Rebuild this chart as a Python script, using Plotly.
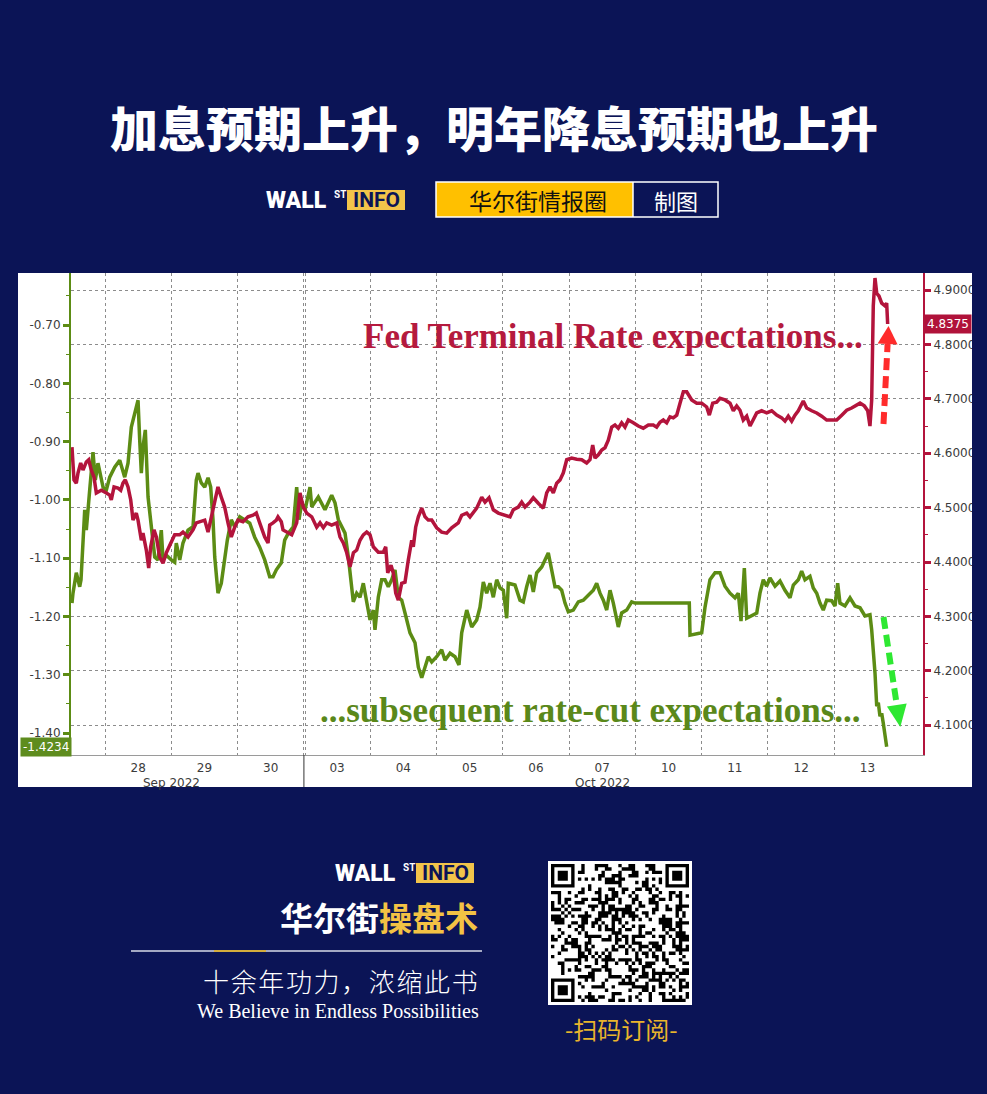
import plotly.graph_objects as go

W, H = 987, 1094
NAVY = "#0b1456"
RED = "#b3143c"
GREEN = "#5c8c14"
GRID = "#8c8c8c"

# ---------------- data ----------------
day_labels = ["28", "29", "30", "03", "04", "05", "06", "07", "10", "11", "12", "13"]
month_labels = ["Sep 2022", "Oct 2022"]
month_pos = [1.0, 7.5]
left_ticks = [-0.70, -0.80, -0.90, -1.00, -1.10, -1.20, -1.30, -1.40]
right_ticks = [4.10, 4.20, 4.30, 4.40, 4.50, 4.60, 4.70, 4.80, 4.90]

green_x = [-0.498,-0.483,-0.433,-0.382,-0.362,-0.332,-0.306,-0.282,-0.256,-0.231,
           -0.181,-0.146,-0.106,-0.080,-0.030,0.020,0.071,0.146,0.222,0.297,
           0.347,0.397,0.448,0.498,0.523,0.548,0.573,0.608,0.649,0.698,
           0.750,0.799,0.849,0.875,0.925,1.000,1.051,1.075,1.127,1.176,
           1.252,1.327,1.377,1.403,1.452,1.504,1.554,1.594,1.629,1.655,
           1.704,1.754,1.805,1.845,1.905,1.956,2.032,2.107,2.183,2.258,
           2.333,2.409,2.484,2.534,2.584,2.659,2.710,2.765,2.840,2.891,
           2.926,2.967,3.017,3.092,3.118,3.217,3.318,3.419,3.469,3.519,
           3.620,3.670,3.721,3.745,3.796,3.846,3.896,3.947,3.997,4.047,
           4.072,4.122,4.173,4.223,4.273,4.324,4.374,4.424,4.475,4.525,
           4.600,4.676,4.726,4.777,4.827,4.876,4.928,5.003,5.078,5.128,
           5.204,5.279,5.339,5.380,5.456,5.531,5.606,5.656,5.706,5.757,
           5.807,5.857,5.908,5.958,6.008,6.059,6.083,6.184,6.259,6.309,
           6.360,6.410,6.460,6.511,6.587,6.637,6.686,6.737,6.787,6.837,
           6.888,6.938,6.988,7.063,7.139,7.214,7.290,7.365,7.416,7.466,
           7.516,7.567,7.617,7.667,7.742,7.793,7.869,7.944,7.994,8.813,
           8.824,9.000,9.050,9.125,9.201,9.276,9.351,9.427,9.502,9.552,
           9.593,9.643,9.679,9.754,9.830,9.879,9.929,9.980,10.030,10.106,
           10.181,10.256,10.332,10.382,10.457,10.508,10.558,10.633,10.683,10.735,
           10.784,10.834,10.885,10.961,11.011,11.051,11.086,11.161,11.237,11.312,
           11.388,11.463,11.538,11.564,11.588,11.614,11.640,11.664,11.689,11.715,
           11.739,11.765,11.790]
green_y = [-1.177,-1.160,-1.125,-1.149,-1.137,-1.057,-1.017,-1.052,-1.012,-0.983,
           -0.918,-0.966,-0.937,-0.949,-0.978,-0.983,-0.961,-0.944,-0.932,-0.961,
           -0.937,-0.875,-0.851,-0.829,-0.897,-0.954,-0.909,-0.880,-0.995,-1.052,
           -1.098,-1.103,-1.052,-1.103,-1.095,-1.103,-1.107,-1.074,-1.103,-1.074,
           -1.052,-1.046,-0.966,-0.954,-0.971,-0.978,-0.962,-0.978,-1.034,-1.098,
           -1.160,-1.143,-1.098,-1.069,-1.034,-1.046,-1.029,-1.034,-1.040,-1.064,
           -1.081,-1.103,-1.132,-1.132,-1.120,-1.108,-1.069,-1.057,-1.046,-0.978,
           -1.034,-1.005,-1.017,-0.978,-1.012,-0.995,-1.017,-0.992,-1.005,-1.034,
           -1.057,-1.098,-1.149,-1.175,-1.160,-1.167,-1.143,-1.172,-1.206,-1.189,
           -1.223,-1.167,-1.137,-1.137,-1.149,-1.137,-1.120,-1.167,-1.172,-1.194,
           -1.228,-1.245,-1.287,-1.305,-1.287,-1.269,-1.278,-1.269,-1.257,-1.275,
           -1.263,-1.269,-1.283,-1.228,-1.189,-1.218,-1.206,-1.184,-1.141,-1.160,
           -1.143,-1.167,-1.137,-1.151,-1.155,-1.203,-1.143,-1.146,-1.172,-1.175,
           -1.149,-1.129,-1.158,-1.125,-1.115,-1.103,-1.091,-1.120,-1.149,-1.149,
           -1.155,-1.177,-1.192,-1.189,-1.175,-1.172,-1.163,-1.155,-1.143,-1.160,
           -1.172,-1.189,-1.155,-1.177,-1.218,-1.194,-1.189,-1.175,-1.177,-1.177,
           -1.232,-1.228,-1.184,-1.137,-1.125,-1.125,-1.148,-1.160,-1.168,-1.160,
           -1.208,-1.117,-1.203,-1.199,-1.194,-1.160,-1.137,-1.148,-1.134,-1.148,
           -1.139,-1.155,-1.168,-1.146,-1.137,-1.122,-1.137,-1.131,-1.151,-1.160,
           -1.177,-1.189,-1.172,-1.173,-1.182,-1.143,-1.177,-1.182,-1.168,-1.182,
           -1.185,-1.199,-1.197,-1.223,-1.257,-1.297,-1.354,-1.348,-1.371,-1.366,
           -1.383,-1.400,-1.4234]

red_x = [-0.498,-0.468,-0.433,-0.407,-0.367,-0.332,-0.282,-0.246,-0.207,-0.166,
         -0.131,-0.056,0.020,0.071,0.095,0.136,0.196,0.237,0.271,0.306,
         0.347,0.388,0.422,0.472,0.498,0.548,0.573,0.623,0.659,0.689,
         0.739,0.774,0.825,0.875,0.925,1.000,1.051,1.127,1.176,1.252,
         1.327,1.377,1.452,1.504,1.554,1.614,1.655,1.704,1.754,1.805,
         1.855,1.905,1.956,2.006,2.081,2.157,2.232,2.282,2.333,2.409,
         2.459,2.484,2.534,2.584,2.609,2.659,2.685,2.816,2.891,2.941,
         2.991,3.042,3.118,3.193,3.243,3.293,3.344,3.419,3.495,3.544,
         3.594,3.646,3.695,3.747,3.796,3.846,3.896,3.947,3.997,4.047,
         4.122,4.198,4.234,4.264,4.314,4.348,4.385,4.424,4.475,4.525,
         4.575,4.626,4.650,4.686,4.726,4.777,4.827,4.876,4.928,5.003,
         5.078,5.154,5.229,5.279,5.329,5.380,5.456,5.505,5.555,5.606,
         5.682,5.732,5.792,5.857,5.932,6.033,6.109,6.158,6.234,6.285,
         6.335,6.410,6.460,6.535,6.611,6.662,6.712,6.762,6.813,6.863,
         6.913,6.964,7.039,7.115,7.190,7.265,7.315,7.356,7.391,7.441,
         7.492,7.541,7.591,7.643,7.692,7.742,7.793,7.843,7.893,7.968,
         8.044,8.119,8.195,8.270,8.321,8.371,8.421,8.472,8.522,8.572,
         8.623,8.673,8.723,8.774,8.849,8.925,9.000,9.075,9.115,9.166,
         9.226,9.276,9.351,9.427,9.477,9.528,9.578,9.627,9.679,9.729,
         9.778,9.830,9.905,9.980,10.056,10.131,10.207,10.256,10.306,10.357,
         10.407,10.457,10.532,10.584,10.659,10.735,10.810,10.885,10.961,11.036,
         11.112,11.187,11.262,11.338,11.388,11.453,11.504,11.538,11.564,11.588,
         11.614,11.640,11.674,11.715,11.765,11.790,11.805]
red_y = [4.611,4.551,4.545,4.564,4.582,4.569,4.584,4.588,4.569,4.556,
         4.527,4.532,4.527,4.523,4.514,4.538,4.536,4.532,4.545,4.551,
         4.538,4.514,4.477,4.490,4.477,4.440,4.453,4.422,4.389,4.428,
         4.459,4.446,4.409,4.398,4.417,4.437,4.450,4.450,4.455,4.446,
         4.459,4.472,4.474,4.477,4.455,4.490,4.508,4.538,4.519,4.501,
         4.472,4.446,4.464,4.477,4.474,4.483,4.486,4.490,4.472,4.446,
         4.435,4.468,4.472,4.477,4.483,4.474,4.459,4.450,4.472,4.527,
         4.501,4.490,4.483,4.464,4.472,4.463,4.472,4.468,4.472,4.446,
         4.435,4.417,4.391,4.417,4.422,4.440,4.450,4.455,4.450,4.428,
         4.418,4.418,4.428,4.380,4.394,4.380,4.343,4.330,4.361,4.363,
         4.404,4.440,4.428,4.464,4.483,4.499,4.483,4.477,4.477,4.463,
         4.455,4.453,4.463,4.468,4.472,4.486,4.490,4.483,4.492,4.499,
         4.519,4.510,4.518,4.496,4.490,4.486,4.483,4.496,4.501,4.510,
         4.501,4.510,4.518,4.508,4.499,4.527,4.538,4.527,4.545,4.551,
         4.564,4.588,4.591,4.589,4.588,4.582,4.588,4.615,4.591,4.597,
         4.606,4.610,4.624,4.648,4.652,4.646,4.656,4.648,4.661,4.656,
         4.650,4.646,4.652,4.652,4.648,4.657,4.661,4.656,4.667,4.665,
         4.670,4.692,4.713,4.713,4.698,4.692,4.692,4.685,4.670,4.692,
         4.694,4.701,4.698,4.692,4.678,4.687,4.679,4.661,4.668,4.650,
         4.661,4.674,4.678,4.674,4.678,4.670,4.665,4.659,4.668,4.659,
         4.670,4.678,4.696,4.683,4.678,4.674,4.668,4.661,4.661,4.661,
         4.670,4.679,4.683,4.689,4.692,4.687,4.678,4.650,4.698,4.871,
         4.922,4.894,4.889,4.876,4.871,4.876,4.8375]

red_last = red_y[-1]
green_last = green_y[-1]


# ---------------- helpers ----------------
def X(p):
    return p / W


def Y(p):
    return 1 - p / H


day_centers = [i + 0.5 for i in range(len(day_labels))]
day_bounds = [float(i) for i in range(len(day_labels))] + [3.03]
left_minor = [(a + b) / 2 for a, b in zip(left_ticks[:-1], left_ticks[1:])] + [-0.65]
right_minor = [(a + b) / 2 for a, b in zip(right_ticks[:-1], right_ticks[1:])]

fig = go.Figure()
fig.add_trace(go.Scatter(x=green_x, y=green_y, mode="lines", yaxis="y",
                         line=dict(color=GREEN, width=3.5), hoverinfo="skip", showlegend=False))
fig.add_trace(go.Scatter(x=red_x, y=red_y, mode="lines", yaxis="y2",
                         line=dict(color=RED, width=3.5), hoverinfo="skip", showlegend=False))

tickfont = dict(family="DejaVu Sans", size=12, color="#3c3c3c")

fig.update_layout(
    width=W, height=H, autosize=False,
    margin=dict(l=0, r=0, t=0, b=0),
    paper_bgcolor=NAVY, plot_bgcolor="white",
    showlegend=False,
    xaxis=dict(domain=[X(71), X(923)], range=[-0.513, 12.338],
               tickvals=day_centers, ticktext=day_labels, ticks="",
               showgrid=False, zeroline=False, showline=True, linecolor="#9a9a9a", linewidth=1,
               tickfont=tickfont, ticklabelstandoff=2,
               minor=dict(tickvals=day_bounds, showgrid=True, gridcolor=GRID,
                          griddash="dot", gridwidth=1, ticks=""),
               anchor="y", fixedrange=True),
    yaxis=dict(domain=[Y(755), Y(273)], range=[-1.4376, -0.6108],
               tickvals=left_ticks, ticktext=[f"{v:.2f}" for v in left_ticks],
               ticks="outside", ticklen=6, tickwidth=3, tickcolor=GREEN,
               showline=True, linecolor=GREEN, linewidth=2,
               showgrid=False, zeroline=False, tickfont=tickfont,
               minor=dict(tickvals=left_minor, ticks="outside", ticklen=3,
                          tickwidth=1, tickcolor=GREEN, showgrid=False),
               anchor="x", fixedrange=True),
    yaxis2=dict(overlaying="y", side="right", anchor="x",
                range=[4.0452, 4.9313],
                tickvals=right_ticks, ticktext=[f"{v:.4f}" for v in right_ticks],
                ticks="outside", ticklen=6, tickwidth=3, tickcolor=RED,
                showline=True, linecolor=RED, linewidth=2,
                showgrid=True, gridcolor=GRID, griddash="dot", gridwidth=1,
                zeroline=False, tickfont=tickfont,
                minor=dict(tickvals=right_minor, ticks="outside", ticklen=3,
                           tickwidth=1, tickcolor=RED, showgrid=False),
                fixedrange=True),
)

shapes = []
# white chart panel
shapes.append(dict(type="rect", xref="paper", yref="paper", x0=X(18), x1=X(972),
                   y0=Y(787), y1=Y(273), fillcolor="white", line=dict(width=0), layer="below"))
# clip of right labels at panel edge
shapes.append(dict(type="rect", xref="paper", yref="paper", x0=X(972), x1=1.0,
                   y0=Y(790), y1=Y(270), fillcolor=NAVY, line=dict(width=0), layer="above"))
# month separator
shapes.append(dict(type="line", xref="x", yref="paper", x0=3.0, x1=3.0,
                   y0=Y(787), y1=Y(755), line=dict(color="#333333", width=1)))


def arrow(tail, base, tip, half, color):
    (tx, ty), (bx, by), (px_, py_) = tail, base, tip
    dx, dy = px_ - bx, py_ - by
    n_ = (dx * dx + dy * dy) ** 0.5
    ux, uy = -dy / n_, dx / n_
    shapes.append(dict(type="line", xref="paper", yref="paper",
                       x0=X(tx), y0=Y(ty), x1=X(bx), y1=Y(by),
                       line=dict(color=color, width=6, dash="12px,6px")))
    p1 = (bx + ux * half, by + uy * half)
    p2 = (bx - ux * half, by - uy * half)
    path = (f"M{X(p1[0]):.5f},{Y(p1[1]):.5f} L{X(px_):.5f},{Y(py_):.5f} "
            f"L{X(p2[0]):.5f},{Y(p2[1]):.5f} Z")
    shapes.append(dict(type="path", xref="paper", yref="paper", path=path,
                       fillcolor=color, line=dict(width=0)))


arrow((883.5, 424), (887.6, 344), (888.5, 326), 10, "#ff2b2b")
arrow((883.5, 617), (896.8, 705), (900.3, 727), 10, "#2ee832")

# header: tag boxes
shapes.append(dict(type="rect", xref="paper", yref="paper", x0=X(436), x1=X(633),
                   y0=Y(217), y1=Y(182), fillcolor="#ffc000", line=dict(width=0)))
shapes.append(dict(type="rect", xref="paper", yref="paper", x0=X(436), x1=X(718),
                   y0=Y(217), y1=Y(182), fillcolor="rgba(0,0,0,0)",
                   line=dict(color="white", width=1.5)))
shapes.append(dict(type="line", xref="paper", yref="paper", x0=X(633), x1=X(633),
                   y0=Y(217), y1=Y(182), line=dict(color="white", width=1.5)))


def logo(xw, yc, scale):
    # WALL ST INFO wordmark
    ann = []
    ann.append(dict(x=X(xw), y=Y(yc), text="WALL", xanchor="left", yanchor="middle",
                    font=dict(family="Roboto", size=23 * scale, color="white", weight=900)))
    ann.append(dict(x=X(xw + 68 * scale), y=Y(yc - 6 * scale), text="ST", xanchor="left",
                    yanchor="middle",
                    font=dict(family="Roboto", size=10 * scale, color="white", weight=700)))
    bx0 = xw + 83 * scale
    shapes.append(dict(type="rect", xref="paper", yref="paper", x0=X(bx0), x1=X(bx0 + 58 * scale),
                       y0=Y(yc + 10 * scale), y1=Y(yc - 10 * scale), fillcolor="#f2c44a",
                       line=dict(width=0)))
    ann.append(dict(x=X(bx0 + 29 * scale), y=Y(yc), text="INFO", xanchor="center",
                    yanchor="middle",
                    font=dict(family="Roboto", size=21 * scale, color=NAVY, weight=700)))
    return ann


annotations = []
annotations += logo(264, 200, 1.0)
annotations += logo(333, 873, 1.0)

# footer line
shapes.append(dict(type="line", xref="paper", yref="paper", x0=X(131), x1=X(482),
                   y0=Y(951), y1=Y(951), line=dict(color="#d8dbe8", width=1.5)))
shapes.append(dict(type="line", xref="paper", yref="paper", x0=X(214), x1=X(266),
                   y0=Y(951), y1=Y(951), line=dict(color="#d4ad3c", width=2)))

# QR code (decorative)
qx0, qy0, qs = 548, 861, 144
shapes.append(dict(type="rect", xref="paper", yref="paper", x0=X(qx0), x1=X(qx0 + qs),
                   y0=Y(qy0 + qs), y1=Y(qy0), fillcolor="white", line=dict(width=0)))
n = 41
m = (qs - 6) / n
ox, oy = qx0 + 3, qy0 + 3


def module(r, c):
    for fr, fc in [(0, 0), (0, n - 7), (n - 7, 0)]:
        if fr <= r < fr + 7 and fc <= c < fc + 7:
            rr, cc = r - fr, c - fc
            return rr in (0, 6) or cc in (0, 6) or (2 <= rr <= 4 and 2 <= cc <= 4)
        if fr - 1 <= r <= fr + 7 and fc - 1 <= c <= fc + 7:
            return False
    h = (r * 37 + 11) * (c * 53 + 7) + r * r * 5 + c * 3
    return (h ^ (h >> 3)) % 7 < 3


parts = []
for r in range(n):
    c = 0
    while c < n:
        if module(r, c):
            c2 = c
            while c2 < n and module(r, c2):
                c2 += 1
            xa, xb = ox + c * m, ox + c2 * m
            ya, yb = oy + r * m, oy + (r + 1) * m
            parts.append(f"M{X(xa):.5f},{Y(ya):.5f}H{X(xb):.5f}V{Y(yb):.5f}H{X(xa):.5f}Z")
            c = c2
        else:
            c += 1
shapes.append(dict(type="path", xref="paper", yref="paper", path=" ".join(parts),
                   fillcolor="black", line=dict(width=0)))

fig.update_layout(shapes=shapes)


def txt(x, y, text, size, color, family="Noto Sans CJK SC", weight=400, xanchor="center",
        xref="paper", yref="paper", **kw):
    d = dict(x=x, y=y, xref=xref, yref=yref, text=text, showarrow=False,
             xanchor=xanchor, yanchor="middle",
             font=dict(family=family, size=size, color=color, weight=weight))
    d.update(kw)
    return d


slogan = "\u200a".join("十余年功力，浓缩此书")

annotations = [dict(a, xref="paper", yref="paper", showarrow=False) for a in annotations]
annotations += [
    txt(X(494), Y(126), "加息预期上升，明年降息预期也上升", 48, "white", weight=900),
    txt(X(538), Y(200), "华尔街情报圈", 23, "#111111"),
    txt(X(676), Y(200), "制图", 22, "white"),
    txt(X(361), Y(336), "Fed Terminal Rate expectations...", 35, "#b51a3e",
        family="Liberation Serif", weight=700, xanchor="left"),
    txt(X(318), Y(710), "...subsequent rate-cut expectations...", 35, "#5a881a",
        family="Liberation Serif", weight=700, xanchor="left"),
    txt(month_pos[0], Y(783), month_labels[0], 12, "#3c3c3c", family="DejaVu Sans", xref="x"),
    txt(month_pos[1], Y(783), month_labels[1], 12, "#3c3c3c", family="DejaVu Sans", xref="x"),
    txt(X(924), red_last, f"{red_last:.4f}", 12, "white", family="DejaVu Sans",
        xanchor="left", yref="y2", bgcolor="#b0123a", borderpad=2),
    txt(X(72), green_last, f"{green_last:.4f}", 12, "white", family="DejaVu Sans",
        xanchor="right", yref="y", bgcolor="#5e8c1e", borderpad=2),
    txt(X(480), Y(917), "华尔街<span style='color:#f3c244'>操盘术</span>", 33, "white",
        weight=700, xanchor="right"),
    txt(X(480), Y(980), slogan, 26, "white", weight=300, xanchor="right"),
    txt(X(481), Y(1011), "We Believe in Endless Possibilities", 20, "white",
        family="Liberation Serif", xanchor="right"),
    txt(X(621), Y(1028), "-扫码订阅-", 24, "#e9b52c"),
]
fig.update_layout(annotations=annotations)

fig.write_html("out.html", config={"displayModeBar": False},
               post_script="document.body.style.margin='0';document.body.style.overflow='hidden';")
